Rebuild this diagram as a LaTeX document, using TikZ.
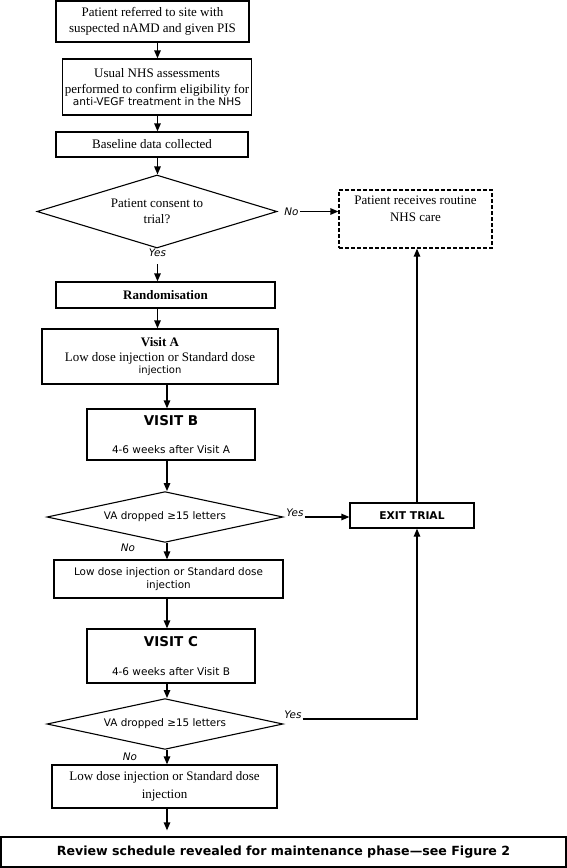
\documentclass[tikz,border=0pt]{standalone}
\usepackage{fontspec}
\setmainfont{Liberation Serif}
\setsansfont{DejaVu Sans}
\usetikzlibrary{shapes.geometric,arrows.meta,calc}
\tikzset{
  box/.style={draw, rectangle, line width=1.3pt, inner xsep=0pt, inner ysep=0pt, align=center,
              font=\fontsize{13}{15.6}\selectfont},
  sbox/.style={box, font=\sffamily\fontsize{10.4}{13}\selectfont},
  dbox/.style={box, dash pattern=on 4pt off 2pt},
  dia/.style={draw, diamond, line width=1.1pt, inner sep=0pt, aspect=3, align=center},
  lbl/.style={font=\sffamily\itshape\fontsize{10.4}{12}\selectfont, inner sep=1pt},
  arr/.style={-{Triangle[length=8pt,width=6.5pt]}, line width=1.3pt},
}
\begin{document}
\begin{tikzpicture}[x=1pt,y=-1pt]
\useasboundingbox (0,0) rectangle (567,868);
\coordinate (colA) at (157.5,0);
\coordinate (colB) at (167,0);
\coordinate (colC) at (417,0);
\coordinate (turn) at (417,719);

\node[box, minimum width=193, minimum height=41] (b1) at (152.5,21.5)
  {Patient referred to site with\\suspected nAMD and given PIS};
\node[box, minimum width=189, minimum height=56] (b2) at (157,87)
  {Usual NHS assessments\\performed to confirm eligibility for\\[-3.5pt]{\sffamily\fontsize{10.6}{12}\selectfont anti-VEGF treatment in the NHS}};
\node[box, minimum width=192, minimum height=25] (b3) at (152,144.5) {Baseline data collected};
\node[dia, minimum width=240, minimum height=73, font=\fontsize{13}{15.6}\selectfont] (d1) at (157,211.5)
  {Patient consent to\\trial?};
\node[lbl] (noA) at (291.5,211.5) {No};
\node[dbox, minimum width=153, minimum height=58] (care) at (415.5,219) {};
\node[align=center, inner sep=0pt, font=\fontsize{13}{16.5}\selectfont] (careT) at (415.5,209) {Patient receives routine\\NHS care};
\node[lbl] (yesA) at (157.5,253) {Yes};
\node[box, minimum width=219, minimum height=26] (rand) at (165.5,295) {\bfseries Randomisation};
\node[box, minimum width=236, minimum height=55] (visA) at (160,356.5)
  {\bfseries Visit A\\Low dose injection or Standard dose\\[-3.5pt]{\sffamily\fontsize{10}{12}\selectfont injection}};
\node[box, minimum width=168, minimum height=51] (visB) at (171,434.5)
  {{\sffamily\bfseries\fontsize{13.5}{16}\selectfont VISIT B}\\[12.5pt]{\sffamily\fontsize{10.5}{12}\selectfont 4-6 weeks after Visit A}};
\node[dia, minimum width=236, minimum height=40, font=\sffamily\fontsize{10.4}{12}\selectfont] (d2) at (165,517) {VA dropped ≥15 letters};
\node[lbl] (yesB) at (295,513) {Yes};
\node[box, minimum width=124, minimum height=25, font=\sffamily\bfseries\fontsize{10.7}{13}\selectfont] (exit) at (412,515.5) {EXIT TRIAL};
\node[lbl] (noB) at (128,548) {No};
\node[sbox, minimum width=229, minimum height=38] (inj1) at (168.5,579) {Low dose injection or Standard dose\\injection};
\node[box, minimum width=168, minimum height=54] (visC) at (171,656)
  {{\sffamily\bfseries\fontsize{13.5}{16}\selectfont VISIT C}\\[14pt]{\sffamily\fontsize{10.5}{12}\selectfont 4-6 weeks after Visit B}};
\node[dia, minimum width=236, minimum height=40, font=\sffamily\fontsize{10.4}{12}\selectfont] (d3) at (165,724) {VA dropped ≥15 letters};
\node[lbl] (yesC) at (293,715) {Yes};
\node[lbl] (noC) at (130,757) {No};
\node[box, minimum width=225, minimum height=43, font=\fontsize{13}{18}\selectfont] (inj2) at (164.5,786.5) {Low dose injection or Standard dose\\injection};
\node[box, minimum width=565, minimum height=30, font=\sffamily\bfseries\fontsize{12.6}{15}\selectfont] (final) at (283.5,852)
  {Review schedule revealed for maintenance phase—see Figure 2};

% connectors
\draw[arr] (b1.south -| colA) -- (b2.north -| colA);
\draw[arr] (b2.south -| colA) -- (b3.north -| colA);
\draw[arr] (b3.south -| colA) -- (d1.north -| colA);
\draw[arr] (noA.east) -- (care.west |- noA.east);
\draw[arr] ([yshift=-6pt]yesA.south -| colA) -- (rand.north -| colA);
\draw[arr] (rand.south -| colA) -- (visA.north -| colA);
\draw[arr] (visA.south -| colB) -- (visB.north -| colB);
\draw[arr] (visB.south -| colB) -- (d2.north -| colB);
\draw[arr] (yesB.east |- d2.east) -- (exit.west |- d2.east);
\draw[arr] (exit.north -| colC) -- (care.south -| colC);
\draw[arr] (d2.south -| colB) -- (inj1.north -| colB);
\draw[arr] (inj1.south -| colB) -- (visC.north -| colB);
\draw[arr] (visC.south -| colB) -- (d3.north -| colB);
\draw[arr] (yesC.east |- turn) -- (turn) -- (exit.south -| colC);
\draw[arr] (d3.south -| colB) -- (inj2.north -| colB);
\draw[arr] (inj2.south -| colB) -- ([yshift=6pt]final.north -| colB);
\end{tikzpicture}
\end{document}
